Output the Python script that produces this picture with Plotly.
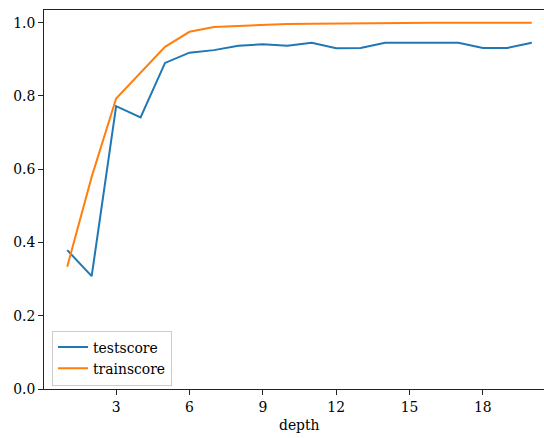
import plotly.graph_objects as go

depth = list(range(1, 21))
testscore = [0.379, 0.308, 0.772, 0.741, 0.890, 0.918, 0.925, 0.937, 0.941, 0.937,
             0.945, 0.930, 0.931, 0.945, 0.945, 0.945, 0.945, 0.931, 0.931, 0.945]
trainscore = [0.334, 0.579, 0.793, 0.863, 0.934, 0.975, 0.988, 0.991, 0.994, 0.996,
              0.997, 0.998, 0.999, 0.999, 1.0, 1.0, 1.0, 1.0, 1.0, 1.0]
xticks = [3, 6, 9, 12, 15, 18]
yticks = [0.0, 0.2, 0.4, 0.6, 0.8, 1.0]

FONT = "'DejaVu Serif', 'Liberation Serif', serif"
FS = 13.9
fig = go.Figure()
fig.add_trace(go.Scatter(x=depth, y=testscore, mode="lines", name="testscore",
                         line=dict(color="#1f77b4", width=2)))
fig.add_trace(go.Scatter(x=depth, y=trainscore, mode="lines", name="trainscore",
                         line=dict(color="#ff7f0e", width=2)))

fig.update_layout(
    width=544, height=438,
    margin=dict(l=44, r=0, t=10, b=49),
    paper_bgcolor="white", plot_bgcolor="white",
    font=dict(family=FONT, size=FS, color="black"),
    showlegend=True,
    legend=dict(x=0.016, y=0.009, xanchor="left", yanchor="bottom",
                bgcolor="rgba(255,255,255,0.8)", bordercolor="#cccccc", borderwidth=1,
                font=dict(family=FONT, size=FS), tracegroupgap=0, itemwidth=30),
    xaxis=dict(range=[0.05, 20.5], tickvals=xticks, showgrid=False, zeroline=False,
               showline=True, linecolor="#222", linewidth=1, mirror=True,
               ticks="outside", ticklen=5, tickcolor="#222", tickwidth=1),
    yaxis=dict(range=[0, 1.0345], tickvals=yticks, tickformat=".1f", showgrid=False,
               zeroline=False, showline=True, linecolor="#222", linewidth=1,
               ticks="outside", ticklen=5, tickcolor="#222", tickwidth=1),
    annotations=[dict(text="depth", xref="paper", yref="paper", x=0.511, y=0,
                      yshift=-26, xanchor="center", yanchor="top", showarrow=False,
                      font=dict(family=FONT, size=FS))],
)
fig.write_html("out.html")
